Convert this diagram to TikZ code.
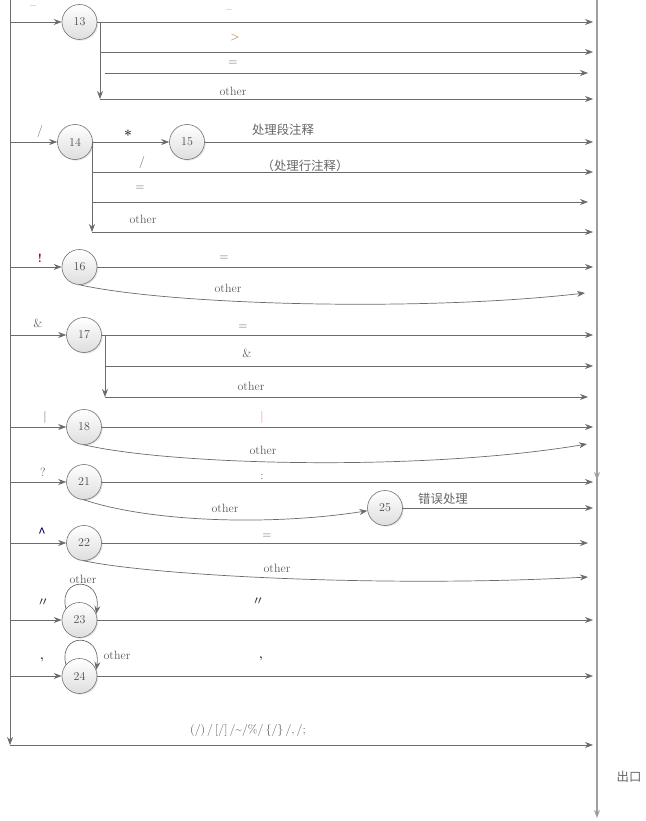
\documentclass[tikz,border=0pt]{standalone}
\usepackage{fontspec}
\newfontfamily\cjk{Noto Sans CJK SC}
\usetikzlibrary{arrows.meta,shadows}
\tikzset{
  state/.style={circle,draw=black!55,line width=.6pt,minimum size=35pt,inner sep=0pt,
    top color=white,bottom color=black!13,
    drop shadow={shadow xshift=1.2pt,shadow yshift=-1.2pt,opacity=.2},
    font=\fontsize{12}{14}\selectfont,text=black!70},
  flow/.style={draw=black!58,line width=.7pt,-{Stealth[length=8pt,width=6pt]}},
  lab/.style={inner sep=0pt,font=\fontsize{12}{14}\selectfont,text=black!65},
  zh/.style={inner sep=0pt,font=\cjk\fontsize{12.4}{14}\selectfont,text=black!60}
}

\begin{document}
\begin{tikzpicture}[x=1pt,y=-1pt]
\path[use as bounding box] (0,0) rectangle (645,821);
% entry and exit lines
\coordinate (lt) at (10,0);
\coordinate (lb) at (10,745);
\coordinate (be) at (593,745);
\coordinate (rt) at (597,0);
\coordinate (rm) at (597,480);
\coordinate (rb) at (597,818);
\draw[flow] (lt) -- (lb);
\draw[flow] (lb) -- (be);
\draw[flow,draw=black!38,line width=1.2pt] (rt) -- (rb);
\draw[flow,draw=black!38,line width=1.2pt] (rt) -- (rm);
\node[lab] (lrest) at (248,730) {(/)\,/\,[/]\,/\textasciitilde/\%/\,\{/\}\,/,\,/;};
\node[zh] (lexit) at (629,777) {出口};

% 13
\coordinate (s13) at (10,22);
\node[state] (n13) at (79.5,22) {13};
\coordinate (e13a) at (593,22);
\coordinate (b13) at (100,22);
\coordinate (b13d) at (100,99);
\coordinate (b13b) at (100,52);
\coordinate (e13b) at (593,52);
\coordinate (b13c) at (105,73);
\coordinate (e13c) at (588,73);
\coordinate (e13d) at (593,99);
\draw[flow] (s13) -- (n13);
\draw[flow] (n13) -- (e13a);
\draw[flow] (b13) -- (b13d);
\draw[flow] (b13b) -- (e13b);
\draw[flow] (b13c) -- (e13c);
\draw[flow] (b13d) -- (e13d);
\node[lab] (l13) at (33,8) {--};
\node[lab] (l13a) at (229,12) {--};
\node[lab,text=orange!70!black] (l13b) at (235,38) {>};
\node[lab] (l13c) at (233,63) {=};
\node[lab] (l13d) at (233,91) {other};

% 14 and 15
\coordinate (s14) at (10,142);
\node[state] (n14) at (75,142) {14};
\node[state] (n15) at (187,142) {15};
\coordinate (e15) at (593,142);
\coordinate (b14) at (92,142);
\coordinate (b14d) at (92,232);
\coordinate (b14a) at (92,172);
\coordinate (e14a) at (593,172);
\coordinate (b14b) at (92,202);
\coordinate (e14b) at (588,202);
\coordinate (e14c) at (593,232);
\draw[flow] (s14) -- (n14);
\draw[flow] (n14) -- (n15);
\draw[flow] (n15) -- (e15);
\draw[flow] (b14) -- (b14d);
\draw[flow] (b14a) -- (e14a);
\draw[flow] (b14b) -- (e14b);
\draw[flow] (b14d) -- (e14c);
\node[lab] (l14) at (40,132) {/};
\node[lab,text=black!80,font=\bfseries\fontsize{14}{14}\selectfont] (l15) at (128,135) {*};
\node[zh] (l15a) at (283,130) {处理段注释};
\node[lab] (l14a) at (142,163) {/};
\node[zh] (l14aa) at (305,166) {（处理行注释）};
\node[lab] (l14b) at (140,188) {=};
\node[lab] (l14c) at (143,219) {other};

% 16
\coordinate (s16) at (10,267);
\node[state] (n16) at (79.5,267) {16};
\coordinate (e16) at (593,267);
\coordinate (o16) at (585,293);
\draw[flow] (s16) -- (n16);
\draw[flow] (n16) -- (e16);
\draw[flow] (n16.south) .. controls (170,305) and (420,312) .. (o16);
\node[lab,text=red!55!black,font=\bfseries\fontsize{12}{14}\selectfont] (l16) at (40,258) {!};
\node[lab] (l16a) at (224,258) {=};
\node[lab] (l16b) at (228,288) {other};

% 17
\coordinate (s17) at (10,335);
\node[state] (n17) at (84,335) {17};
\coordinate (e17a) at (593,335);
\coordinate (b17) at (105,335);
\coordinate (b17d) at (105,397);
\coordinate (b17b) at (105,366);
\coordinate (e17b) at (593,366);
\coordinate (e17c) at (588,397);
\draw[flow] (s17) -- (n17);
\draw[flow] (n17) -- (e17a);
\draw[flow] (b17) -- (b17d);
\draw[flow] (b17b) -- (e17b);
\draw[flow] (b17d) -- (e17c);
\node[lab] (l17) at (38,323) {\&};
\node[lab] (l17a) at (243,327) {=};
\node[lab] (l17b) at (247,353) {\&};
\node[lab] (l17c) at (251,386) {other};

% 18
\coordinate (s18) at (10,427);
\node[state] (n18) at (84,427) {18};
\coordinate (e18) at (593,427);
\coordinate (o18) at (587,444);
\draw[flow] (s18) -- (n18);
\draw[flow] (n18) -- (e18);
\draw[flow] (n18.south) .. controls (170,465) and (420,472) .. (o18);
\node[lab] (l18) at (45,417) {|};
\node[lab,text=red!55] (l18a) at (262,417) {|};
\node[lab] (l18b) at (263,450) {other};

% 21 and 25
\coordinate (s21) at (10,482);
\node[state] (n21) at (84,482) {21};
\coordinate (e21) at (593,482);
\node[state] (n25) at (385,508) {25};
\coordinate (e25) at (593,508);
\draw[flow] (s21) -- (n21);
\draw[flow] (n21) -- (e21);
\draw[flow] (n21.south) .. controls (150,522) and (270,526) .. (n25);
\draw[flow] (n25) -- (e25);
\node[lab] (l21) at (43,472) {?};
\node[lab] (l21a) at (262,477) {:};
\node[lab] (l21b) at (225,508) {other};
\node[zh] (l25) at (443,499) {错误处理};

% 22
\coordinate (s22) at (10,543);
\node[state] (n22) at (84,543) {22};
\coordinate (e22) at (588,543);
\coordinate (o22) at (588,577);
\draw[flow] (s22) -- (n22);
\draw[flow] (n22) -- (e22);
\draw[flow] (n22.south) .. controls (150,575) and (380,588) .. (o22);
\node[zh,text=blue!30!black,font=\cjk\fontsize{14}{14}\selectfont] (l22) at (42,533) {\char94};
\node[lab] (l22a) at (267,536) {=};
\node[lab] (l22b) at (277,568) {other};

% 23
\coordinate (s23) at (10,620);
\node[state] (n23) at (79.5,620) {23};
\coordinate (e23) at (593,620);
\draw[flow] (s23) -- (n23);
\draw[flow] (n23) -- (e23);
\draw[flow] (n23.140) .. controls (58,576) and (102,576) .. (n23.20);
\node[zh,text=black!80] (l23) at (43,603) {〃};
\node[lab] (l23a) at (83,579) {other};
\node[zh,text=black!80] (l23b) at (258,602) {〃};

% 24
\coordinate (s24) at (10,676);
\node[state] (n24) at (79.5,676) {24};
\coordinate (e24) at (593,676);
\draw[flow] (s24) -- (n24);
\draw[flow] (n24) -- (e24);
\draw[flow] (n24.140) .. controls (58,632) and (102,632) .. (n24.20);
\node[lab,text=black!85] (l24) at (42,660) {\textbf{,}};
\node[lab] (l24a) at (117,655) {other};
\node[lab,text=black!85] (l24b) at (261,659) {\textbf{,}};
\end{tikzpicture}
\end{document}
